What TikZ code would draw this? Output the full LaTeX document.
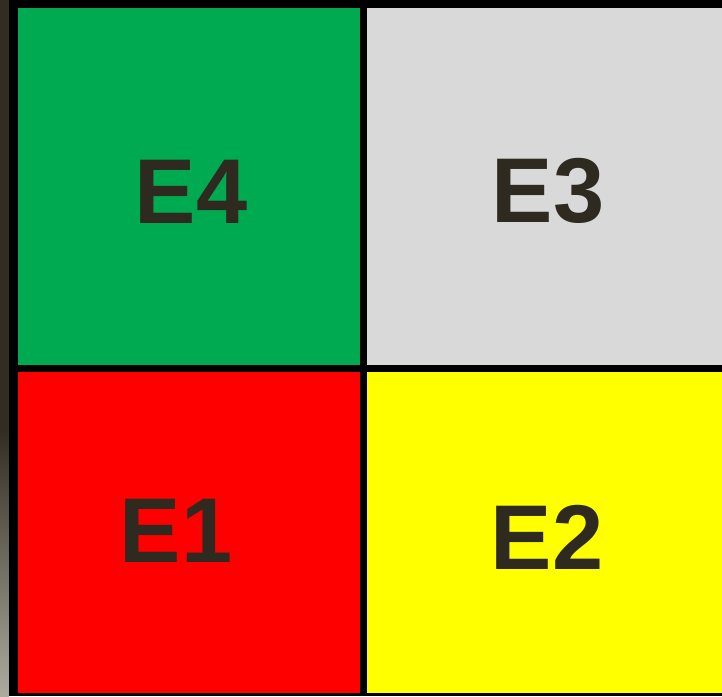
\documentclass[tikz,border=0pt]{standalone}
\usepackage{fontspec}
\setmainfont{Liberation Sans}
\definecolor{stripdark}{RGB}{50,44,34}
\definecolor{striplight}{RGB}{172,172,158}
\definecolor{cellgreen}{RGB}{0,170,80}
\definecolor{cellgray}{RGB}{217,217,217}
\definecolor{cellred}{RGB}{255,0,0}
\definecolor{cellyellow}{RGB}{255,255,0}
\definecolor{labeltext}{RGB}{47,42,32}
\begin{document}
\begin{tikzpicture}[x=1pt,y=-1pt,
  cell/.style={draw=none,inner sep=0pt,outer sep=0pt,anchor=north west},
  lbl/.style={anchor=base,inner sep=0pt,text=labeltext,font=\fontsize{92}{92}\selectfont\bfseries}]
\useasboundingbox (0,0) rectangle (722,696);
% left strip
\fill[stripdark] (0,0) rectangle (9,430);
\shade[top color=stripdark,bottom color=striplight] (0,429) rectangle (9,696);
% black frame
\fill[black] (9,0) rectangle (722,696);
% cells
\node[cell,fill=cellgreen,minimum width=342pt,minimum height=357pt] (c4) at (18,8) {};
\node[cell,fill=cellgray,minimum width=355pt,minimum height=357pt] (c3) at (367,8) {};
\node[cell,fill=cellred,minimum width=342pt,minimum height=321pt] (c1) at (18,372) {};
\node[cell,fill=cellyellow,minimum width=355pt,minimum height=321pt] (c2) at (367,372) {};
% labels
\node[lbl] (e4) at (191,223) {E4};
\node[lbl] (e3) at (548,222) {E3};
\node[lbl] (e1) at (176,562) {E1};
\node[lbl] (e2) at (547,569) {E2};
\end{tikzpicture}
\end{document}
